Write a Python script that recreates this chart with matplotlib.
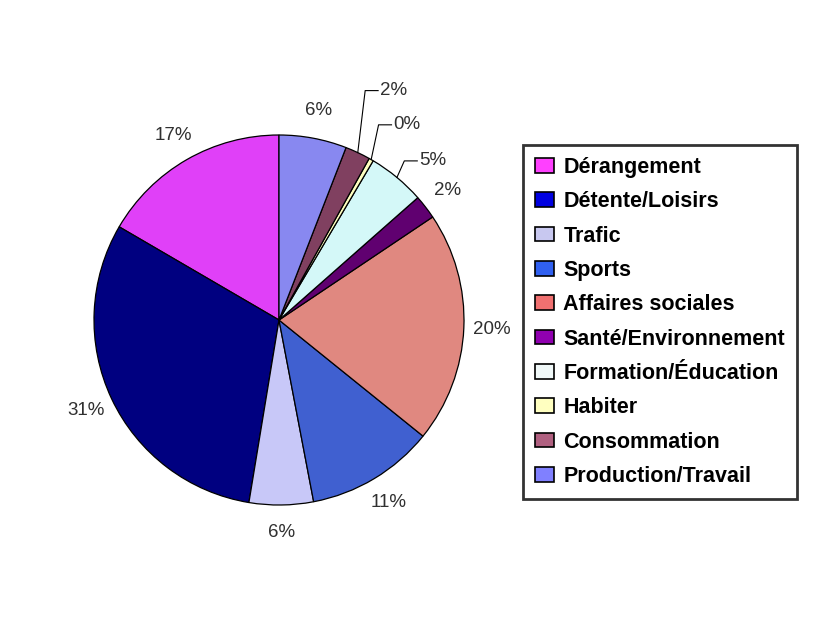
import numpy as np
import matplotlib.pyplot as plt
from matplotlib.patches import Patch

categories = ['Dérangement', 'Détente/Loisirs', 'Trafic', 'Sports', 'Affaires sociales',
              'Santé/Environnement', 'Formation/Éducation', 'Habiter', 'Consommation',
              'Production/Travail']
shares = [16.6, 30.8, 5.6, 11.2, 20.2, 2.1, 5.0, 0.4, 2.2, 5.9]

# wedge fill and the (brighter) legend swatches
pie_colors = ['#E040F8', '#000080', '#C8C8F8', '#4060D0', '#E08880',
              '#600070', '#D4F8F8', '#FFFFC0', '#804060', '#8888F0']
legend_colors = ['#FF40FF', '#0000E0', '#C8C8F0', '#3060F0', '#F07070',
                 '#9000B0', '#F0F8F8', '#FFFFC0', '#B06080', '#8080FF']

# small slices get a leader line: (label index, height of the elbow in radius units)
leaders = {8: 1.24, 7: 1.055, 6: 0.86}

plt.rcParams['font.family'] = ['Liberation Sans', 'DejaVu Sans']

W, H = 837, 632
fig = plt.figure(figsize=(W / 100, H / 100), dpi=100)
fig.patch.set_facecolor('white')

cx, cy, R = 279, 320, 185
lim = 1.25
side = 2 * lim * R
ax = fig.add_axes([(cx - side / 2) / W, (H - cy - side / 2) / H, side / W, side / H])

wedges, _ = ax.pie(shares, colors=pie_colors, startangle=90, counterclock=True,
                   wedgeprops=dict(edgecolor='black', linewidth=0.9))
ax.set_xlim(-lim, lim)
ax.set_ylim(-lim, lim)
ax.set_aspect('equal')
ax.axis('off')

label_kw = dict(fontsize=13.5, color='#303030')
for i, w in enumerate(wedges):
    mid = np.deg2rad((w.theta1 + w.theta2) / 2)
    txt = f"{shares[i]:.0f}%"
    if i in leaders:
        x0, y0 = np.cos(mid), np.sin(mid)
        ey = leaders[i]
        ex = x0 + 0.04
        ax.plot([x0, ex, ex + 0.07], [y0, ey, ey], color='black', lw=0.8, clip_on=False)
        ax.text(ex + 0.08, ey, txt, ha='left', va='center', **label_kw)
    else:
        r = 1.15
        ax.text(r * np.cos(mid), r * np.sin(mid), txt, ha='center', va='center', **label_kw)

handles = [Patch(facecolor=c, edgecolor='black', linewidth=1.2) for c in legend_colors]
leg = fig.legend(handles, categories, loc='upper left',
                 bbox_to_anchor=(523 / W, 1 - 145 / H), bbox_transform=fig.transFigure,
                 prop=dict(family='Liberation Sans', weight='bold', size=15.5),
                 frameon=True, fancybox=False, borderaxespad=0,
                 borderpad=0.55, labelspacing=0.62, handlelength=0.88,
                 handleheight=0.66, handletextpad=0.45)
leg.get_frame().set_edgecolor('black')
leg.get_frame().set_linewidth(2)

fig.savefig('out.png', dpi=100, facecolor='white')
